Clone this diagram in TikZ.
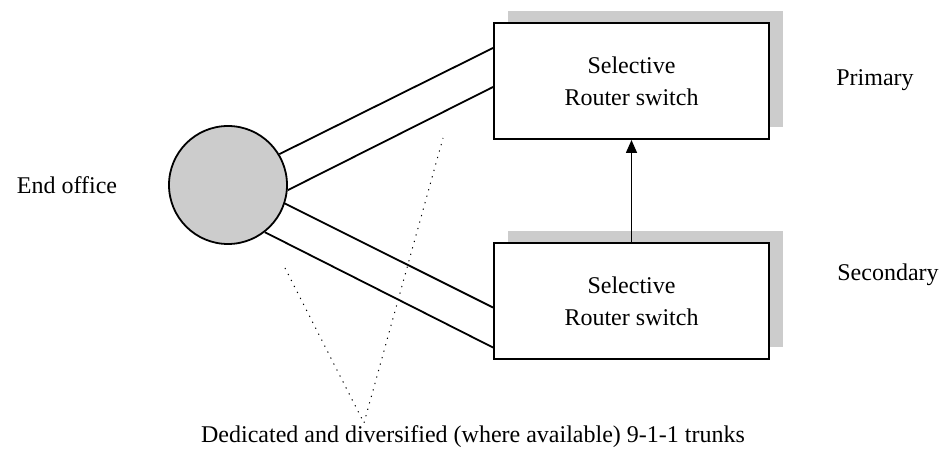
\documentclass[tikz,border=0pt]{standalone}
\usepackage{fontspec}
\setmainfont{Liberation Serif}
\usetikzlibrary{calc, shadows, arrows.meta}

\begin{document}
\begin{tikzpicture}[x=1pt, y=1pt,
		font=\fontsize{24}{32}\selectfont,
		switchbox/.style={draw, line width=2pt, fill=white, minimum width=275pt, minimum height=116pt, align=center,
			general shadow={shadow xshift=14pt, shadow yshift=12pt, fill=black!20}},
		trunk/.style={line width=1.8pt},
		hint/.style={line width=1pt, dash pattern=on 1.2pt off 5.5pt}]
		\useasboundingbox (0,0) rectangle (946,466);
		
		\node[draw, circle, line width=1.8pt, fill=black!20, minimum size=118pt] (eo) at (228,281) {};
		\node[switchbox] (sel1) at (631.5,385) {Selective\\Router switch};
		\node[switchbox] (sel2) at (631.5,164.5) {Selective\\Router switch};
		
		\node (eolbl) at (67,281) {End office};
		\node (prim) at (875,386) {Primary};
		\node (sec) at (888,191) {Secondary};
		\node (trk) at (473,29) {Dedicated and diversified (where available) 9-1-1 trunks};
		
		
		\draw[trunk] (eo.31) -- ($(sel1.west)+(0,33)$);
		\draw[trunk] (eo.-5) -- ($(sel1.west)+(0,-6)$);
		\draw[trunk] (eo.-18) -- ($(sel2.west)+(0,-6)$);
		\draw[trunk] (eo.-52) -- ($(sel2.west)+(0,-46)$);
		\draw[line width=1.6pt, -{Triangle[length=13pt, width=11pt]}] (sel2.north) -- (sel1.south);
		
		\coordinate (apex) at (364,43);
		\coordinate (hinta) at (285,198);
		\coordinate (hintb) at (443,328);
		\draw[hint] (hinta) -- (apex) -- (hintb);
		
		\end{tikzpicture}
\end{document}
